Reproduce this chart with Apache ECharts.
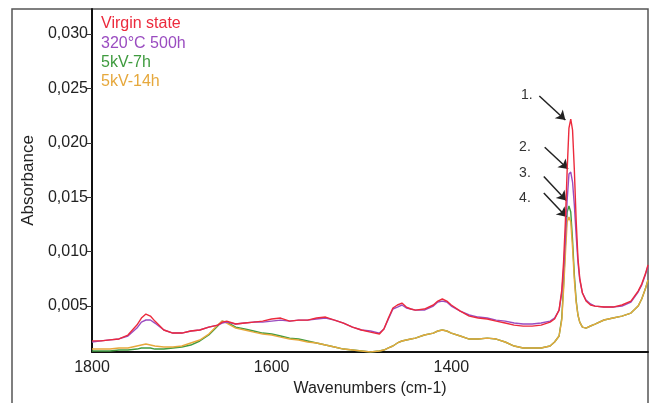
<!DOCTYPE html>
<html>
<head>
<meta charset="utf-8">
<title>FTIR spectra</title>
<script src="https://cdn.jsdelivr.net/npm/echarts@6/dist/echarts.min.js"></script>
<style>
  html, body { margin: 0; padding: 0; background: #ffffff; }
  #chart { width: 651px; height: 403px; }
</style>
</head>
<body>
<div id="chart"></div>
<script>
// Wavenumber grid shared by all four spectra (cm-1)
const wavenumbers = [
  1800,1790,1780,1770,1760,1750,1745,1740,1735,1730,
  1720,1710,1700,1690,1680,1670,1660,1655,1650,1640,
  1630,1620,1610,1600,1590,1580,1570,1560,1550,1540,
  1530,1520,1510,1500,1490,1480,1475,1470,1465,1460,
  1455,1450,1445,1440,1430,1420,1415,1410,1405,1400,
  1390,1380,1370,1360,1350,1340,1330,1320,1310,1300,
  1290,1285,1280,1277,1275,1273,1271,1269,1267,1265,
  1263,1261,1259,1257,1254,1250,1245,1240,1230,1220,
  1210,1200,1192,1188,1184,1181
];

// Absorbance, virgin state
const virginState = [
  0.00180,0.00180,0.00189,0.00198,0.00234,0.00326,0.00390,0.00427,0.00408,0.00362,
  0.00280,0.00252,0.00252,0.00271,0.00280,0.00307,0.00325,0.00353,0.00362,0.00335,
  0.00344,0.00353,0.00362,0.00381,0.00390,0.00362,0.00371,0.00371,0.00390,0.00399,
  0.00371,0.00344,0.00307,0.00280,0.00261,0.00243,0.00289,0.00390,0.00482,0.00510,
  0.00528,0.00491,0.00473,0.00463,0.00473,0.00510,0.00546,0.00565,0.00546,0.00510,
  0.00454,0.00408,0.00390,0.00381,0.00362,0.00344,0.00325,0.00316,0.00316,0.00325,
  0.00353,0.00381,0.00463,0.00647,0.00905,0.01272,0.01750,0.02136,0.02219,0.02118,
  0.01750,0.01291,0.00942,0.00758,0.00620,0.00546,0.00510,0.00500,0.00491,0.00491,
  0.00510,0.00546,0.00638,0.00702,0.00794,0.00877
];

// Absorbance after 500 h at 320 °C
const aged320C = [
  0.00170,0.00180,0.00189,0.00198,0.00225,0.00298,0.00353,0.00372,0.00372,0.00344,
  0.00280,0.00252,0.00252,0.00271,0.00280,0.00307,0.00325,0.00344,0.00353,0.00335,
  0.00344,0.00353,0.00353,0.00362,0.00371,0.00362,0.00371,0.00371,0.00381,0.00390,
  0.00371,0.00344,0.00307,0.00280,0.00271,0.00252,0.00289,0.00381,0.00473,0.00491,
  0.00510,0.00482,0.00473,0.00463,0.00463,0.00500,0.00537,0.00546,0.00537,0.00500,
  0.00454,0.00418,0.00399,0.00390,0.00371,0.00362,0.00344,0.00335,0.00335,0.00344,
  0.00362,0.00390,0.00463,0.00620,0.00831,0.01125,0.01475,0.01713,0.01732,0.01640,
  0.01428,0.01153,0.00905,0.00740,0.00620,0.00555,0.00519,0.00500,0.00491,0.00491,
  0.00500,0.00537,0.00629,0.00693,0.00785,0.00868
];

// Absorbance after 7 h at 5 kV
const kv5h7 = [
  0.00087,0.00087,0.00087,0.00096,0.00096,0.00105,0.00115,0.00115,0.00115,0.00105,
  0.00105,0.00115,0.00124,0.00142,0.00179,0.00234,0.00317,0.00362,0.00353,0.00307,
  0.00289,0.00271,0.00252,0.00243,0.00225,0.00206,0.00197,0.00179,0.00161,0.00142,
  0.00124,0.00105,0.00096,0.00087,0.00078,0.00087,0.00096,0.00115,0.00133,0.00161,
  0.00179,0.00188,0.00197,0.00206,0.00234,0.00252,0.00271,0.00280,0.00271,0.00252,
  0.00225,0.00197,0.00197,0.00206,0.00197,0.00170,0.00133,0.00115,0.00115,0.00115,
  0.00133,0.00170,0.00225,0.00390,0.00693,0.01061,0.01364,0.01419,0.01364,0.01107,
  0.00785,0.00555,0.00418,0.00353,0.00307,0.00298,0.00317,0.00335,0.00372,0.00390,
  0.00408,0.00436,0.00500,0.00565,0.00656,0.00739
];

// Absorbance after 14 h at 5 kV
const kv5h14 = [
  0.00105,0.00105,0.00105,0.00115,0.00115,0.00133,0.00142,0.00151,0.00142,0.00133,
  0.00124,0.00124,0.00133,0.00161,0.00188,0.00243,0.00325,0.00362,0.00344,0.00298,
  0.00280,0.00261,0.00243,0.00234,0.00215,0.00197,0.00188,0.00170,0.00161,0.00142,
  0.00124,0.00105,0.00096,0.00087,0.00078,0.00087,0.00096,0.00115,0.00133,0.00161,
  0.00179,0.00188,0.00197,0.00206,0.00234,0.00252,0.00271,0.00280,0.00271,0.00252,
  0.00225,0.00197,0.00197,0.00206,0.00197,0.00170,0.00133,0.00115,0.00115,0.00115,
  0.00133,0.00170,0.00225,0.00370,0.00647,0.00969,0.01272,0.01318,0.01272,0.01033,
  0.00739,0.00537,0.00418,0.00353,0.00307,0.00298,0.00317,0.00335,0.00372,0.00390,
  0.00408,0.00436,0.00500,0.00565,0.00656,0.00739
];

const seriesNames = ['Virgin state', '320°C 500h', '5kV-7h', '5kV-14h'];
const seriesColors = ['#ec2a3c', '#9a4cc0', '#3f9b3f', '#e6a83c'];

// Axis ticks
const xTickLabels = [1800, 1600, 1400];
const yTickLabels = [0.005, 0.010, 0.015, 0.020, 0.025, 0.030];

// Numbered callouts at the Si-CH3 band: label position, arrow tail, arrow head
const calloutNames = ['1.', '2.', '3.', '4.'];
const calloutTextAt = [[1316, 0.0244], [1318, 0.0196], [1318, 0.0172], [1318, 0.0149]];
const calloutFrom = [[1302, 0.0243], [1296, 0.0196], [1297, 0.0169], [1297, 0.0154]];
const calloutTo = [[1273, 0.0221], [1270, 0.0176], [1272, 0.0147], [1272, 0.0132]];

const FONT = '"Liberation Sans", Arial, sans-serif';

function pairs(values) {
  return wavenumbers.map((w, i) => [w, values[i]]);
}

const chart = echarts.init(document.getElementById('chart'), null, { renderer: 'canvas' });

const lineSeries = (idx, values, z) => ({
  name: seriesNames[idx],
  type: 'line',
  data: pairs(values),
  showSymbol: false,
  symbol: 'none',
  z: z,
  lineStyle: { color: seriesColors[idx], width: 1.4 },
  itemStyle: { color: seriesColors[idx] },
  emphasis: { disabled: true },
  animation: false
});

const redSeries = lineSeries(0, virginState, 5);
redSeries.markLine = {
  silent: true,
  symbol: ['none', 'arrow'],
  symbolSize: 9,
  label: { show: false },
  emphasis: { disabled: true },
  lineStyle: { color: '#222222', width: 1.5, type: 'solid' },
  data: calloutFrom.map((p, i) => [{ coord: p }, { coord: calloutTo[i] }]),
  animation: false
};
redSeries.markPoint = {
  silent: true,
  symbol: 'circle',
  symbolSize: 1,
  itemStyle: { color: 'rgba(0,0,0,0)' },
  label: {
    show: true, position: 'inside', formatter: '{b}',
    color: '#333333', fontSize: 14, fontFamily: FONT
  },
  data: calloutNames.map((n, i) => ({ name: n, coord: calloutTextAt[i] })),
  animation: false
};

const option = {
  animation: false,
  backgroundColor: '#ffffff',
  grid: { left: 92, right: 3, top: 9, bottom: 51, containLabel: false },
  legend: {
    orient: 'vertical',
    left: 91,
    top: 11,
    icon: 'none',
    itemWidth: 0,
    itemHeight: 16,
    itemGap: 3.3,
    selectedMode: false,
    textStyle: { fontSize: 16, fontFamily: FONT, lineHeight: 16 },
    data: seriesNames.map((n, i) => ({ name: n, textStyle: { color: seriesColors[i] } }))
  },
  xAxis: {
    type: 'value',
    inverse: true,
    min: 1181,
    max: 1800,
    name: 'Wavenumbers (cm-1)',
    nameLocation: 'middle',
    nameGap: 27,
    nameTextStyle: { fontSize: 16, color: '#222222', fontFamily: FONT },
    axisLine: { show: true, onZero: false, lineStyle: { color: '#111111', width: 2 } },
    axisTick: { show: false },
    splitLine: { show: false },
    axisLabel: {
      customValues: xTickLabels,
      formatter: v => String(v),
      fontSize: 16, color: '#222222', fontFamily: FONT, margin: 8
    }
  },
  yAxis: {
    type: 'value',
    min: 0.00078,
    max: 0.0323,
    name: 'Absorbance',
    nameLocation: 'middle',
    nameGap: 55,
    nameRotate: 90,
    nameTextStyle: { fontSize: 17, color: '#222222', fontFamily: FONT },
    axisLine: { show: true, onZero: false, lineStyle: { color: '#111111', width: 2 } },
    axisTick: {
      show: true, customValues: yTickLabels, length: 5,
      lineStyle: { color: '#333333', width: 1 }
    },
    splitLine: { show: false },
    axisLabel: {
      customValues: yTickLabels,
      formatter: v => v.toFixed(3).replace('.', ','),
      fontSize: 16, color: '#222222', fontFamily: FONT, margin: 4
    }
  },
  graphic: [{
    type: 'rect',
    z: -10,
    silent: true,
    shape: { x: 12, y: 9, width: 636, height: 420 },
    style: { fill: 'none', stroke: '#555555', lineWidth: 1.5 }
  }],
  series: [
    lineSeries(2, kv5h7, 2),
    lineSeries(3, kv5h14, 3),
    lineSeries(1, aged320C, 4),
    redSeries
  ]
};

chart.setOption(option);
</script>
</body>
</html>
